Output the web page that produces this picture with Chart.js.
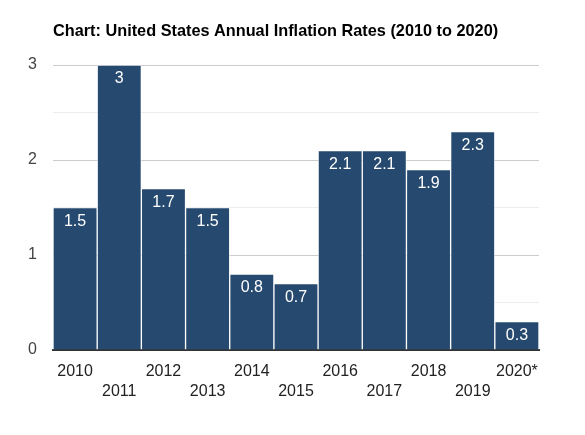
<!DOCTYPE html>
<html>
<head>
<meta charset="utf-8">
<script src="https://cdn.jsdelivr.net/npm/chart.js@4"></script>
<style>
  html, body { margin: 0; padding: 0; background: #fff; }
  #wrap { width: 585px; height: 435px; position: relative; }
</style>
</head>
<body>
<div id="wrap"><canvas id="myChart"></canvas></div>
<script>
var years = ['2010', '2011', '2012', '2013', '2014', '2015', '2016', '2017', '2018', '2019', '2020*'];
var rates = [1.5, 3, 1.7, 1.5, 0.8, 0.7, 2.1, 2.1, 1.9, 2.3, 0.3];
var yTicks = [0, 1, 2, 3];
var titleText = 'Chart: United States Annual Inflation Rates (2010 to 2020)';

Chart.defaults.font.family = '"Liberation Sans", Arial, sans-serif';

// title drawn by hand so it lines up with the plot's left edge
var titlePlugin = {
    id: 'leftTitle',
    afterDraw: function (chart) {
        var c = chart.ctx;
        c.save();
        c.font = 'bold 16.3px "Liberation Sans", Arial, sans-serif';
        c.fillStyle = '#000';
        c.textBaseline = 'alphabetic';
        c.textAlign = 'left';
        c.fillText(titleText, chart.chartArea.left, 36);
        c.restore();
    }
};

// value labels inside the top of each bar
var valuePlugin = {
    id: 'barValues',
    afterDatasetsDraw: function (chart) {
        var c = chart.ctx;
        var meta = chart.getDatasetMeta(0);
        c.save();
        c.font = '16px "Liberation Sans", Arial, sans-serif';
        c.fillStyle = '#fff';
        c.textAlign = 'center';
        c.textBaseline = 'middle';
        meta.data.forEach(function (bar, i) {
            c.fillText(String(rates[i]), bar.x, bar.y + 14);
        });
        c.restore();
    }
};

var ctx = document.getElementById('myChart');
var myChart = new Chart(ctx, {
    type: 'bar',
    data: {
        labels: years,
        datasets: [{
            data: rates,
            backgroundColor: '#264a6f',
            borderColor: 'rgba(255, 255, 255, 0.55)',
            borderWidth: 1,
            categoryPercentage: 1,
            barPercentage: 1
        }]
    },
    options: {
        responsive: true,
        maintainAspectRatio: false,
        animation: false,
        layout: { padding: { top: 65, right: 46, bottom: 0, left: 0 } },
        plugins: {
            legend: { display: false },
            title: { display: false },
            tooltip: { enabled: false }
        },
        scales: {
            x: {
                grid: { display: false, drawTicks: false },
                border: { display: true, color: '#333', width: 2 },
                ticks: {
                    autoSkip: false,
                    maxRotation: 0,
                    color: '#222',
                    font: { size: 16, lineHeight: 1.25 },
                    padding: 12,
                    callback: function (v, i) {
                        return i % 2 === 0 ? [years[i], ''] : ['', years[i]];
                    }
                },
                afterFit: function (scale) { scale.height = 85; }
            },
            y: {
                min: 0,
                max: 3,
                border: { display: false },
                grid: {
                    drawTicks: false,
                    color: function (c) {
                        if (c.tick.value === 0) return '#333';
                        return Number.isInteger(c.tick.value) ? '#cccccc' : '#ececec';
                    }
                },
                ticks: {
                    stepSize: 0.5,
                    color: '#444',
                    font: { size: 16 },
                    padding: 16,
                    callback: function (v) {
                        return yTicks.indexOf(v) >= 0 ? String(v) : '';
                    }
                },
                afterFit: function (scale) { scale.width = 53; }
            }
        }
    },
    plugins: [titlePlugin, valuePlugin]
});
</script>
</body>
</html>
